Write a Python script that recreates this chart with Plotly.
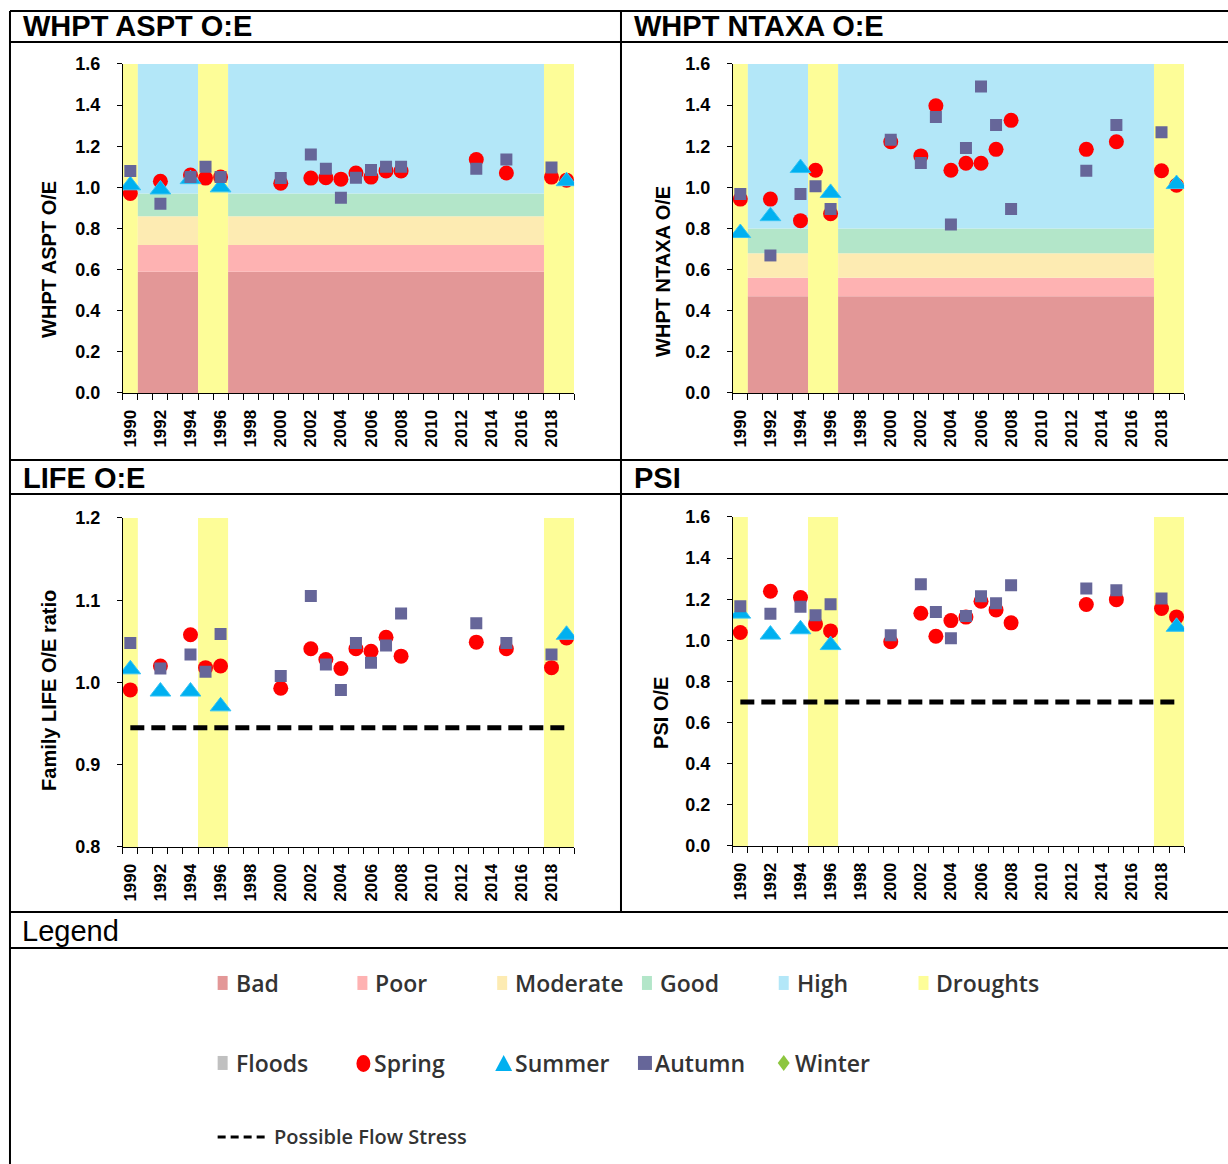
import plotly.graph_objects as go

# ---- data -----------------------------------------------------------------
years_spring = [1990, 1992, 1994, 1995, 1996, 2000, 2002, 2003, 2004, 2005,
                2006, 2007, 2008, 2013, 2015, 2018, 2019]
years_autumn = [1990, 1992, 1994, 1995, 1996, 2000, 2002, 2003, 2004, 2005,
                2006, 2007, 2008, 2013, 2015, 2018]
years_summer = [1990, 1992, 1994, 1996, 2019]

aspt_spring = [0.97, 1.03, 1.06, 1.045, 1.05, 1.02, 1.045, 1.047, 1.04, 1.07,
               1.05, 1.08, 1.08, 1.135, 1.07, 1.05, 1.035]
aspt_summer = [1.01, 0.99, 1.04, 1.00, 1.03]
aspt_autumn = [1.08, 0.92, 1.05, 1.10, 1.05, 1.045, 1.16, 1.09, 0.95, 1.047,
               1.085, 1.10, 1.10, 1.09, 1.135, 1.097]

ntaxa_spring = [0.943, 0.943, 0.838, 1.083, 0.872, 1.222, 1.153, 1.397, 1.083,
                1.117, 1.117, 1.185, 1.326, 1.185, 1.222, 1.081, 1.01]
ntaxa_summer = [0.778, 0.86, 1.094, 0.973, 1.016]
ntaxa_autumn = [0.968, 0.669, 0.968, 1.005, 0.895, 1.232, 1.119, 1.342, 0.819,
                1.191, 1.49, 1.303, 0.895, 1.081, 1.303, 1.268]

life_spring = [0.991, 1.020, 1.058, 1.018, 1.020, 0.993, 1.041, 1.028, 1.017,
               1.041, 1.038, 1.055, 1.032, 1.049, 1.041, 1.018, 1.054]
life_summer = [1.016, 0.989, 0.989, 0.971, 1.058]
life_autumn = [1.048, 1.017, 1.034, 1.013, 1.059, 1.008, 1.105, 1.022, 0.991,
               1.048, 1.024, 1.045, 1.084, 1.072, 1.048, 1.034]

psi_spring = [1.038, 1.239, 1.208, 1.079, 1.046, 0.993, 1.132, 1.020, 1.096,
              1.113, 1.190, 1.148, 1.085, 1.174, 1.198, 1.155, 1.114]
psi_summer = [1.13, 1.028, 1.054, 0.977, 1.066]
psi_autumn = [1.166, 1.129, 1.163, 1.122, 1.176, 1.025, 1.273, 1.138, 1.010,
              1.119, 1.215, 1.181, 1.268, 1.252, 1.244, 1.203]

# WFD class boundaries (Poor/Bad, Moderate/Poor, Good/Moderate, High/Good)
aspt_bounds = [0.59, 0.72, 0.86, 0.97]
ntaxa_bounds = [0.47, 0.56, 0.68, 0.80]

# drought periods (first year, last year)
droughts = [(1990, 1990), (1995, 1996), (2018, 2019)]
# periods with WFD status shading
status_periods = [(1991, 1994), (1997, 2017)]

life_flow_stress = 0.945
psi_flow_stress = 0.70
stress_years = [1990, 2019]

year_ticks = list(range(1990, 2019, 2))

# ---- page geometry --------------------------------------------------------
# Layout positions below are given in page pixels and converted to paper
# fractions; vertically the page is offset and slightly squeezed.
W, H = 1228, 1174
Y_OFF, Y_SCALE = 10, 0.983

C_BAD, C_POOR, C_MOD, C_GOOD, C_HIGH = "#e39797", "#feb2b2", "#fdebb2", "#b3e6c9", "#b3e7f8"
C_DROUGHT = "#fdfd98"
C_SPRING, C_SUMMER, C_AUTUMN = "#ff0000", "#00b0f0", "#666699"
C_WINTER, C_FLOODS = "#8dc63f", "#c0c0c0"
FONT = "Arial, Liberation Sans, sans-serif"
LEG_FONT = "Open Sans, sans-serif"


def px(x):
    return x / W


def py(y):
    return 1 - ((y - Y_OFF) / Y_SCALE) / H


fig = go.Figure()
shapes = []
annotations = []

panels = [
    dict(x0=121, x1=573, yt=64, yb=393, yr=[0, 1.6], dt=0.2,
         sp=aspt_spring, su=aspt_summer, au=aspt_autumn, bounds=aspt_bounds, stress=None),
    dict(x0=732, x1=1184, yt=64, yb=393, yr=[0, 1.6], dt=0.2,
         sp=ntaxa_spring, su=ntaxa_summer, au=ntaxa_autumn, bounds=ntaxa_bounds, stress=None),
    dict(x0=121, x1=573, yt=518, yb=847, yr=[0.8, 1.2], dt=0.1,
         sp=life_spring, su=life_summer, au=life_autumn, bounds=None, stress=life_flow_stress),
    dict(x0=732, x1=1184, yt=517, yb=846, yr=[0, 1.6], dt=0.2,
         sp=psi_spring, su=psi_summer, au=psi_autumn, bounds=None, stress=psi_flow_stress),
]

layout_axes = {}
for i, p in enumerate(panels, start=1):
    xa = "x" if i == 1 else f"x{i}"
    ya = "y" if i == 1 else f"y{i}"
    lo, hi = p["yr"]

    # drought bands
    for a, b in droughts:
        shapes.append(dict(type="rect", xref=xa, yref=ya, x0=a - 0.5, x1=b + 0.5,
                           y0=lo, y1=hi, fillcolor=C_DROUGHT, line_width=0, layer="below"))
    # status bands
    if p["bounds"]:
        edges = [0] + p["bounds"] + [hi]
        cols = [C_BAD, C_POOR, C_MOD, C_GOOD, C_HIGH]
        for a, b in status_periods:
            for k, c in enumerate(cols):
                shapes.append(dict(type="rect", xref=xa, yref=ya, x0=a - 0.5, x1=b + 0.5,
                                   y0=edges[k], y1=edges[k + 1], fillcolor=c,
                                   line_width=0, layer="below"))

    if p["stress"] is not None:
        fig.add_trace(go.Scatter(x=stress_years, y=[p["stress"]] * 2, mode="lines",
                                 line=dict(color="black", width=5, dash="14px,7px"),
                                 xaxis=xa, yaxis=ya, showlegend=False, hoverinfo="skip"))

    fig.add_trace(go.Scatter(x=years_spring, y=p["sp"], mode="markers", name="Spring",
                             marker=dict(symbol="circle", size=15, color=C_SPRING, line_width=0),
                             xaxis=xa, yaxis=ya, showlegend=False))
    fig.add_trace(go.Scatter(x=years_summer, y=p["su"], mode="markers", name="Summer",
                             marker=dict(symbol="triangle-up", size=18, color=C_SUMMER,
                                         line=dict(color="#33c4f5", width=1)),
                             xaxis=xa, yaxis=ya, showlegend=False))
    fig.add_trace(go.Scatter(x=years_autumn, y=p["au"], mode="markers", name="Autumn",
                             marker=dict(symbol="square", size=12, color=C_AUTUMN, line_width=0),
                             xaxis=xa, yaxis=ya, showlegend=False))

    nticks = round((hi - lo) / p["dt"]) + 1
    yvals = [round(lo + k * p["dt"], 2) for k in range(nticks)]
    layout_axes["xaxis" if i == 1 else f"xaxis{i}"] = dict(
        domain=[px(p["x0"]), px(p["x1"])], anchor=ya, range=[1989.5, 2019.5],
        showgrid=False, zeroline=False, showline=True, linecolor="black", linewidth=1,
        tickmode="array", tickvals=year_ticks,
        ticktext=[f"<b>{y}</b>" for y in year_ticks], ticks="", tickangle=-90,
        ticklabelstandoff=9, tickfont=dict(family=FONT, size=17, color="black"),
        minor=dict(ticks="outside", tick0=1989.5, dtick=1, ticklen=6,
                   tickcolor="black", tickwidth=1, showgrid=False),
    )
    layout_axes["yaxis" if i == 1 else f"yaxis{i}"] = dict(
        domain=[py(p["yb"]), py(p["yt"])], anchor=xa, range=[lo, hi],
        showgrid=False, zeroline=False, showline=True, linecolor="black", linewidth=1,
        tickmode="array", tickvals=yvals, ticktext=[f"<b>{v:.1f}</b>" for v in yvals],
        ticks="outside", ticklen=5, tickcolor="black", ticklabelstandoff=13,
        tickfont=dict(family=FONT, size=18, color="black"),
    )

# ---- axis titles ----------------------------------------------------------
for text, x, y in [("WHPT ASPT O/E", 47, 259), ("WHPT NTAXA O/E", 662, 271),
                   ("Family LIFE O/E ratio", 47, 690), ("PSI O/E", 660, 713)]:
    annotations.append(dict(text=f"<b>{text}</b>", x=px(x), y=py(y), xref="paper", yref="paper",
                            textangle=-90, showarrow=False, xanchor="center", yanchor="middle",
                            font=dict(family=FONT, size=20, color="black")))

# ---- panel titles ---------------------------------------------------------
for text, x, y, bold in [("WHPT ASPT O:E", 19, 26, True), ("WHPT NTAXA O:E", 631, 26, True),
                         ("LIFE O:E", 19, 478, True), ("PSI", 631, 478, True),
                         ("Legend", 18, 931, False)]:
    annotations.append(dict(text=f"<b>{text}</b>" if bold else text, x=px(x), y=py(y),
                            xref="paper", yref="paper", showarrow=False,
                            xanchor="left", yanchor="middle",
                            font=dict(family=FONT, size=29, color="black")))

# ---- table frame ----------------------------------------------------------
frame = [((8, 11), (W, 11)), ((8, 11), (8, 1164)), ((620, 11), (620, 912)),
         ((8, 42), (W, 42)), ((8, 460), (W, 460)), ((8, 494), (W, 494)),
         ((8, 912), (W, 912)), ((8, 948), (W, 948))]
for (xa0, ya0), (xa1, ya1) in frame:
    shapes.append(dict(type="line", xref="paper", yref="paper", x0=px(xa0), y0=py(ya0),
                       x1=px(xa1), y1=py(ya1), line=dict(color="black", width=2)))

# ---- legend ---------------------------------------------------------------
LEG_COLOR = "#333333"


def leg_text(text, x, y, size=23):
    annotations.append(dict(text=text, x=px(x), y=py(y), xref="paper", yref="paper",
                            showarrow=False, xanchor="left", yanchor="middle",
                            font=dict(family=LEG_FONT, size=size, color=LEG_COLOR,
                                      weight=600)))


def leg_rect(x, y, color, w=10, h=14):
    shapes.append(dict(type="rect", xref="paper", yref="paper",
                       x0=px(x), x1=px(x + w), y0=py(y + h / 2), y1=py(y - h / 2),
                       fillcolor=color, line_width=0))


def leg_path(points, color):
    d = "M " + " L ".join(f"{px(a)},{py(b)}" for a, b in points) + " Z"
    shapes.append(dict(type="path", xref="paper", yref="paper", path=d,
                       fillcolor=color, line_width=0))


row1, row2, row3 = 983, 1063, 1137
for label, color, sx in [("Bad", C_BAD, 216), ("Poor", C_POOR, 356), ("Moderate", C_MOD, 496),
                         ("Good", C_GOOD, 641), ("High", C_HIGH, 778),
                         ("Droughts", C_DROUGHT, 918)]:
    leg_rect(sx, row1, color)
    leg_text(label, sx + 16, row1)

leg_rect(216, row2, C_FLOODS)
leg_text("Floods", 232, row2)
shapes.append(dict(type="circle", xref="paper", yref="paper", x0=px(355), x1=px(369),
                   y0=py(row2 + 9), y1=py(row2 - 8), fillcolor=C_SPRING, line_width=0))
leg_text("Spring", 371, row2)
leg_path([(494, row2 + 8), (511, row2 + 8), (502.5, row2 - 8)], C_SUMMER)
leg_text("Summer", 512, row2)
leg_rect(637, row2, C_AUTUMN, w=14, h=14)
leg_text("Autumn", 652, row2)
leg_path([(783, row2 - 8), (789, row2), (783, row2 + 8), (777, row2)], C_WINTER)
leg_text("Winter", 792, row2)

shapes.append(dict(type="line", xref="paper", yref="paper", x0=px(216), x1=px(268),
                   y0=py(row3), y1=py(row3), line=dict(color="black", width=3, dash="8px,5px")))
leg_text("Possible Flow Stress", 270, row3, size=20)

fig.update_layout(
    width=W, height=H, margin=dict(l=0, r=0, t=0, b=0),
    paper_bgcolor="white", plot_bgcolor="rgba(0,0,0,0)",
    showlegend=False, shapes=shapes, annotations=annotations,
    **layout_axes,
)

fig.write_html("out.html")
